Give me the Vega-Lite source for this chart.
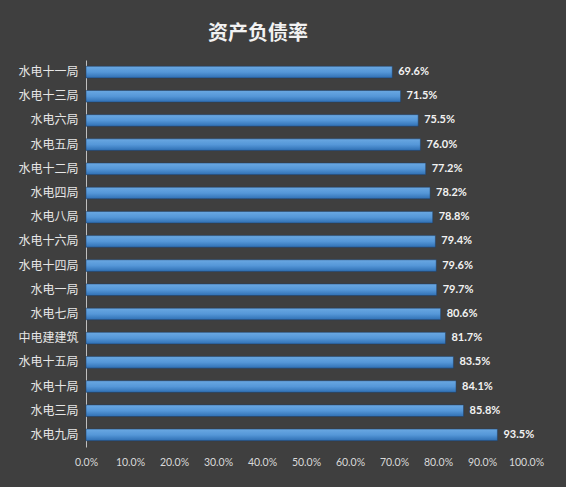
{
  "$schema": "https://vega.github.io/schema/vega-lite/v6.json",
  "autosize": {"type": "none"},
  "width": 440,
  "height": 387,
  "padding": {"left": 86, "top": 60, "right": 40, "bottom": 40},
  "background": "#3f3f3f",
  "title": {
    "text": "资产负债率",
    "anchor": "middle",
    "dx": -48,
    "offset": 16,
    "font": "Noto Sans CJK SC",
    "fontSize": 20,
    "fontWeight": "bold",
    "color": "#f2f2f2"
  },
  "config": {
    "view": {"stroke": null},
    "axis": {"grid": false}
  },
  "data": {
    "values": [
      {"unit": "水电十一局", "rate": 0.696},
      {"unit": "水电十三局", "rate": 0.715},
      {"unit": "水电六局", "rate": 0.755},
      {"unit": "水电五局", "rate": 0.760},
      {"unit": "水电十二局", "rate": 0.772},
      {"unit": "水电四局", "rate": 0.782},
      {"unit": "水电八局", "rate": 0.788},
      {"unit": "水电十六局", "rate": 0.794},
      {"unit": "水电十四局", "rate": 0.796},
      {"unit": "水电一局", "rate": 0.797},
      {"unit": "水电七局", "rate": 0.806},
      {"unit": "中电建建筑", "rate": 0.817},
      {"unit": "水电十五局", "rate": 0.835},
      {"unit": "水电十局", "rate": 0.841},
      {"unit": "水电三局", "rate": 0.858},
      {"unit": "水电九局", "rate": 0.935}
    ]
  },
  "encoding": {
    "y": {
      "field": "unit",
      "type": "nominal",
      "sort": {"field": "rate", "order": "ascending"},
      "scale": {"paddingInner": 0.52, "paddingOuter": 0.26},
      "axis": {
        "title": null,
        "ticks": false,
        "domain": true,
        "domainColor": "#bfbfbf",
        "domainWidth": 1,
        "labelPadding": 8,
        "labelFont": "Noto Sans CJK SC",
        "labelFontSize": 12,
        "labelColor": "#e6e6e6"
      }
    },
    "x": {
      "field": "rate",
      "type": "quantitative",
      "scale": {"domain": [0, 1], "nice": false},
      "axis": {
        "title": null,
        "format": ".1%",
        "values": [0, 0.1, 0.2, 0.3, 0.4, 0.5, 0.6, 0.7, 0.8, 0.9, 1.0],
        "ticks": false,
        "domain": false,
        "labelOverlap": false,
        "labelFlush": false,
        "labelPadding": 10,
        "labelFont": "Lato",
        "labelFontSize": 10.5,
        "labelColor": "#d9d9d9"
      }
    }
  },
  "layer": [
    {
      "mark": {
        "type": "bar",
        "color": {
          "gradient": "linear",
          "x1": 0, "y1": 0, "x2": 0, "y2": 1,
          "stops": [
            {"offset": 0, "color": "#6aa8e2"},
            {"offset": 0.5, "color": "#5597d8"},
            {"offset": 1, "color": "#2f6fb3"}
          ]
        },
        "stroke": "#1f3f66",
        "strokeWidth": 0.5
      }
    },
    {
      "mark": {
        "type": "text",
        "align": "left",
        "dx": 6,
        "font": "Lato",
        "fontSize": 11,
        "fontWeight": "bold",
        "color": "#f2f2f2"
      },
      "encoding": {
        "text": {"field": "rate", "type": "quantitative", "format": ".1%"}
      }
    }
  ]
}
